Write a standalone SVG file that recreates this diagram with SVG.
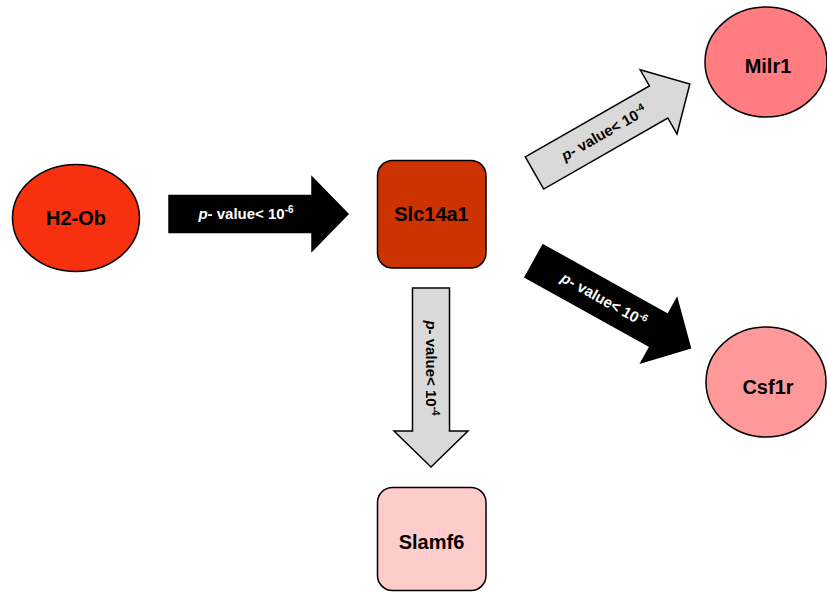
<svg xmlns="http://www.w3.org/2000/svg" width="827" height="592" viewBox="0 0 827 592">
<style>
.node{stroke:#000;stroke-width:1.5}
.lbl{font-family:"Liberation Sans",Arial,sans-serif;font-weight:bold;font-size:20px;fill:#000;text-anchor:middle}
.arr-dark{fill:#000;stroke:#000;stroke-width:1.5}
.arr-light{fill:#D9D9D9;stroke:#000;stroke-width:1.5}
.al{font-family:"Liberation Sans",Arial,sans-serif;font-weight:bold;font-size:15px;text-anchor:middle}
.al-w{fill:#fff}
.al-b{fill:#000}
.it{font-style:italic}
</style>
<defs>
<path id="arrow" d="M0,-18.5 H143 V-37 L179,0 L143,37 V18.5 H0 Z"/>
</defs>
<rect width="827" height="592" fill="#fff"/>
<g id="connectors">
<g id="e-h2ob-slc" transform="translate(169,214)">
<use href="#arrow" class="arr-dark"/>
<text class="al al-w" x="77" y="5"><tspan class="it">p</tspan>- value&lt; 10<tspan dy="-6" font-size="10">-6</tspan></text>
</g>
<g id="e-slc-milr1" transform="translate(534.5,173) rotate(-29.8)">
<use href="#arrow" class="arr-light"/>
<text class="al al-b" x="80" y="5"><tspan class="it">p</tspan>- value&lt; 10<tspan dy="-6" font-size="10">-4</tspan></text>
</g>
<g id="e-slc-csf1r" transform="translate(534,261) rotate(29.1)">
<use href="#arrow" class="arr-dark"/>
<text class="al al-w" x="80" y="5"><tspan class="it">p</tspan>- value&lt; 10<tspan dy="-6" font-size="10">-6</tspan></text>
</g>
<g id="e-slc-slamf6" transform="translate(431,288) rotate(90)">
<use href="#arrow" class="arr-light"/>
<text class="al al-b" x="80" y="5"><tspan class="it">p</tspan>- value&lt; 10<tspan dy="-6" font-size="10">-4</tspan></text>
</g>
</g>
<g id="H2-Ob">
<ellipse class="node" cx="76" cy="218" rx="63.5" ry="53.5" fill="#F7310F"/>
<text class="lbl" x="76" y="225">H2-Ob</text>
</g>
<g id="Slc14a1">
<rect class="node" x="377.5" y="160.5" width="108.5" height="107.5" rx="15" fill="#CC3300"/>
<text class="lbl" x="431.5" y="221">Slc14a1</text>
</g>
<g id="Milr1">
<ellipse class="node" cx="766" cy="62" rx="61" ry="55" fill="#FF7C80"/>
<text class="lbl" x="768" y="73">Milr1</text>
</g>
<g id="Csf1r">
<ellipse class="node" cx="766" cy="382" rx="60" ry="55" fill="#FF9999"/>
<text class="lbl" x="768" y="394">Csf1r</text>
</g>
<g id="Slamf6">
<rect class="node" x="377.5" y="487.5" width="108.5" height="103" rx="15" fill="#FFCCCC"/>
<text class="lbl" x="431.5" y="549">Slamf6</text>
</g>
</svg>
